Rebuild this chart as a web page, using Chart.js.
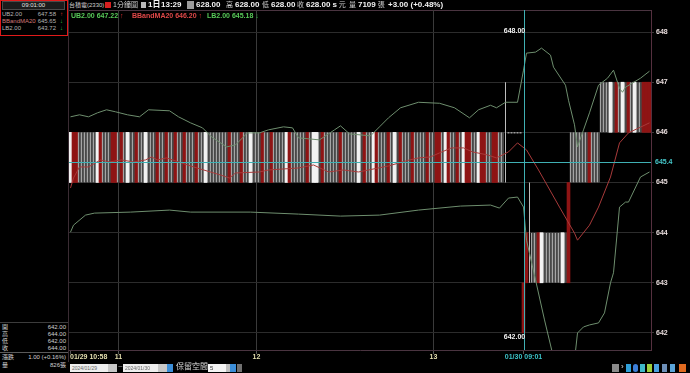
<!DOCTYPE html>
<html>
<head>
<meta charset="utf-8">
<script src="https://cdn.jsdelivr.net/npm/chart.js@4.4.1/dist/chart.umd.min.js"></script>
<style>
html, body { margin: 0; padding: 0; background: #000; width: 690px; height: 373px; overflow: hidden;
  font-family: "Liberation Sans", "Noto Sans CJK TC", sans-serif; }
.abs { position: absolute; white-space: nowrap; }
#frame { position: absolute; left: 68px; top: 10px; width: 584px; height: 341px; box-sizing: border-box;
  border-top: 1px solid #4a3440; border-left: 1px solid #4a3440; }
#chartBox { position: absolute; left: 69px; top: 10px; width: 621px; height: 352px; }
#left { position: absolute; left: 0; top: 0; width: 68px; height: 362px; border-right: 1px solid #3a2c33; }
#redBox { position: absolute; left: 0; top: 0; width: 68px; height: 36px; border: 1px solid #e01a1a; box-sizing: border-box; }
#timeHead { position: absolute; left: 2px; top: 1px; width: 63px; height: 9px; background: #1c1c1c; border: 1px solid #4a4a4a;
  box-sizing: border-box; color: #e0e0e0; font-size: 6px; line-height: 7px; text-align: center; }
.lrow { position: absolute; left: 2px; width: 62px; height: 7px; font-size: 6px; line-height: 7px; color: #b5b5b5; }
.lrow .v { position: absolute; right: 8px; top: 0; }
.lrow .a { position: absolute; right: 1px; top: 0; font-size: 6px; }
.brow { position: absolute; left: 2px; width: 64px; height: 7px; font-size: 6px; line-height: 7px; color: #d0d0d0; }
.brow .v { position: absolute; right: 0; top: 0; }
.hd { position: absolute; top: 0; font-size: 7px; line-height: 10px; color: #cfcfcf; white-space: nowrap; }
.hd b { color: #f2f2f2; font-size: 8px; }
.lg { position: absolute; top: 11px; font-size: 7px; line-height: 9px; font-weight: bold; white-space: nowrap; }
.tb { position: absolute; top: 364px; height: 8px; box-sizing: border-box; }
</style>
</head>
<body>
<div id="frame"></div>
<div id="chartBox"><canvas id="myChart"></canvas></div>

<div id="left">
  <div id="redBox"></div>
  <div id="timeHead">09:01:00</div>
  <div class="lrow" style="top:11px"><span>UB2.00</span><span class="v">647.58</span><span class="a" style="color:#e03030">↑</span></div>
  <div class="lrow" style="top:18px"><span style="color:#d07878">BBandMA20</span><span class="v">645.65</span><span class="a" style="color:#30c040">↓</span></div>
  <div class="lrow" style="top:25px"><span>LB2.00</span><span class="v">643.72</span><span class="a" style="color:#30c040">↓</span></div>

  <div class="abs" style="left:0;top:322px;width:68px;height:1px;background:#3c3c3c"></div>
  <div class="brow" style="top:324px"><span>開</span><span class="v">642.00</span></div>
  <div class="brow" style="top:331px"><span>高</span><span class="v">644.00</span></div>
  <div class="brow" style="top:338px"><span>低</span><span class="v">642.00</span></div>
  <div class="brow" style="top:345px"><span>收</span><span class="v">644.00</span></div>
  <div class="abs" style="left:0;top:352px;width:68px;height:1px;background:#5a5a5a"></div>
  <div class="brow" style="top:354px"><span>漲跌</span><span class="v">1.00 (+0.16%)</span></div>
  <div class="brow" style="top:362px"><span>量</span><span class="v">826張</span></div>
</div>

<!-- header -->
<span class="hd" style="left:69px;font-size:6px">台積電(2330)</span>
<span class="abs" style="left:105px;top:2px;width:6px;height:6px;background:#d82020"></span>
<span class="hd" style="left:113px">1分鐘圖</span>
<span class="abs" style="left:141px;top:2px;width:5px;height:6px;background:#b8b8b8"></span>
<span class="hd" style="left:148px"><b>1日</b></span>
<span class="hd" style="left:161px"><b>13:29</b></span>
<span class="abs" style="left:187px;top:1px;width:7px;height:8px;background:#9a9a9a"></span>
<span class="hd" style="left:196px"><b>628.00</b></span>
<span class="hd" style="left:226px">高 <b>628.00</b></span>
<span class="hd" style="left:262px">低 <b>628.00</b></span>
<span class="hd" style="left:297px">收 <b>628.00</b> <b>s</b> 元</span>
<span class="hd" style="left:349px">量 <b>7109</b> 張</span>
<span class="hd" style="left:388px"><b>+3.00 (+0.48%)</b></span>

<!-- legend -->
<span class="lg" style="left:71px;color:#58c858">UB2.00 647.22 <span style="color:#e03030">↑</span></span>
<span class="lg" style="left:132px;color:#e04848">BBandMA20 646.20 <span style="color:#e03030">↑</span></span>
<span class="lg" style="left:207px;color:#58c858">LB2.00 645.18 <span style="color:#30c040">↓</span></span>

<!-- bottom toolbar -->
<div class="tb" style="left:70px;width:47px;background:#eeeeee;font-size:5px;line-height:8px;color:#666;padding-left:2px">2024/01/29</div>
<div class="tb" style="left:108px;width:9px;background:#c8c8c8"></div>
<span class="abs" style="left:118px;top:362px;font-size:8px;color:#aaa">~</span>
<div class="tb" style="left:123px;width:44px;background:#eeeeee;font-size:5px;line-height:8px;color:#666;padding-left:2px">2024/01/30</div>
<div class="tb" style="left:158px;width:9px;background:#c8c8c8"></div>
<div class="tb" style="left:167px;width:6px;background:#3c8ed8"></div>
<span class="abs" style="left:176px;top:362px;font-size:8px;line-height:10px;color:#d8d8d8">保留空間</span>
<div class="tb" style="left:208px;width:18px;background:#f4f4f4;font-size:6px;line-height:8px;color:#333;padding-left:2px">5</div>
<div class="tb" style="left:226px;width:4px;background:#c0c0c0"></div>
<div class="tb" style="left:230px;width:6px;background:#3c8ed8"></div>
<div class="tb" style="left:237px;width:5px;background:#707070"></div>
<div class="tb" style="left:612px;width:7px;background:#8a8a8a"></div>
<span class="abs" style="left:621px;top:362px;font-size:8px;color:#ddd">›</span>
<div class="tb" style="left:626px;width:5px;background:#2f9fd8"></div>
<div class="tb" style="left:633px;width:5px;background:#3c7ed8;border-radius:3px"></div>
<div class="tb" style="left:640px;width:5px;background:#3fb8c8"></div>
<div class="tb" style="left:647px;width:5px;background:#9ccf3c"></div>
<div class="tb" style="left:654px;width:5px;background:#4aa0e0"></div>
<div class="tb" style="left:662px;width:5px;background:#6d8fb8"></div>
<div class="tb" style="left:670px;width:5px;background:#5aa4d8"></div>
<div class="tb" style="left:679px;width:7px;background:#e06a20"></div>

<script>
// x axis labels (bar index -> text)
const xTickIdx = [0, 16, 62, 121, 151];
const xTickText = ['01/29 10:58', '11', '12', '13', '01/30 09:01'];
const yTicks = [642, 643, 644, 645, 646, 647, 648];
const crossVal = 645.4;
const markIdx = 148;
const markVals = [648.00, 642.00];

// minute bars: body low / high, and kind (o = hollow, r = down red, w = solid white, l = thin bar, d = doji)
const barLow = [
  645,645,645,645,645,645,645,645,645,645,645,645,645,645,645,645,645,645,645,645,
  645,645,645,645,645,645,645,645,645,645,645,645,645,645,645,645,645,645,645,645,
  645,645,645,645,645,645,645,645,645,645,645,645,645,645,645,645,645,645,645,645,
  645,645,645,645,645,645,645,645,645,645,645,645,645,645,645,645,645,645,645,645,
  645,645,645,645,645,645,645,645,645,645,645,645,645,645,645,645,645,645,645,645,
  645,645,645,645,645,645,645,645,645,645,645,645,645,645,645,645,645,645,645,645,
  645,645,645,645,645,645,645,645,645,645,645,645,645,645,645,645,645,645,645,645,
  645,645,645,645,645,645,646,646,646,646,646,642,643,643,643,643,643,643,643,643,
  643,643,643,643,643,643,643,645,645,645,645,645,645,645,645,645,645,646,646,646,
  646,646,646,646,646,646,646,646,646,646,646,646,646,646
];
const barHigh = [
  646,646,646,646,646,646,646,646,646,646,646,646,646,646,646,646,646,646,646,646,
  646,646,646,646,646,646,646,646,646,646,646,646,646,646,646,646,646,646,646,646,
  646,646,646,646,646,646,646,646,646,646,646,646,646,646,646,646,646,646,646,646,
  646,646,646,646,646,646,646,646,646,646,646,646,646,646,646,646,646,646,646,646,
  646,646,646,646,646,646,646,646,646,646,646,646,646,646,646,646,646,646,646,646,
  646,646,646,646,646,646,646,646,646,646,646,646,646,646,646,646,646,646,646,646,
  646,646,646,646,646,646,646,646,646,646,646,646,646,646,646,646,646,646,646,646,
  646,646,646,646,646,647,646,646,646,646,646,643,644,645,644,644,644,644,644,644,
  644,644,644,644,644,644,645,646,646,646,646,646,646,646,646,646,646,647,647,647,
  647,647,647,647,647,647,647,647,647,647,647,647,647,647
];
const barKind = (
  'wrroooooow' + 'rooorrorow' + 'ooroowooor' + 'ooroorooro' + 'ooroowoooo' +
  'oooroooroo' + 'wooorooroo' + 'oowrooooor' + 'owworooooo' + 'roooooworo' +
  'owrooorowo' + 'roooroooor' + 'oorrowroor' + 'owrroowrro' + 'orrooldddd' +
  'drrloorwoo' + 'ooooworooo' + 'oooroooooo' + 'woroworowo' + 'orrr'
).split('');

// Bollinger bands (bar index, value)
const ubIdx = [0,3,6,9,12,15,19,23,26,33,36,40,44,47,52,55,59,63,66,71,74,76,83,88,90,93,100,103,106,110,
  116,123,128,133,136,140,142,145,149,151,152,155,157,160,161,165,166,168,169,171,173,176,179,181,183,184,185,190,193];
const ubVal = [646.31,646.35,646.31,646.39,646.45,646.41,646.35,646.31,646.45,646.43,646.31,646.19,646.09,645.91,645.71,
  645.75,645.99,645.99,646.05,646.11,646.09,645.89,645.85,646.05,646.13,645.97,645.93,646.11,646.29,646.49,
  646.60,646.58,646.49,646.29,646.45,646.54,646.49,646.60,646.60,647.24,647.58,647.60,647.68,647.54,647.30,
  646.94,646.64,646.15,645.71,646.05,646.39,646.94,647.08,647.24,646.88,646.80,646.90,647.08,647.22];
const maIdx = [0,1,3,6,10,13,17,21,25,27,29,32,36,41,50,53,55,63,66,76,81,86,91,96,106,113,116,120,123,127,
  131,134,139,142,146,149,152,156,163,168,169,173,176,180,183,186,193];
const maVal = [644.89,645.09,645.31,645.31,645.45,645.41,645.45,645.41,645.45,645.51,645.45,645.49,645.41,645.31,645.15,
  645.09,645.19,645.21,645.25,645.29,645.35,645.21,645.25,645.21,645.33,645.45,645.49,645.51,645.59,645.69,
  645.69,645.61,645.55,645.49,645.61,645.79,645.65,645.25,644.51,643.99,643.85,644.15,644.51,645.11,645.79,645.99,646.19];
const lbIdx = [0,1,5,8,20,33,40,60,76,90,103,116,130,140,143,146,149,151,152,155,158,160,162,165,168,169,171,173,176,178,
  180,181,183,185,186,190,193];
const lbVal = [644.01,644.15,644.35,644.39,644.41,644.45,644.41,644.41,644.37,644.33,644.35,644.45,644.53,644.55,644.49,
  644.69,644.71,644.51,643.85,643.06,642.26,641.76,641.26,640.96,641.46,642.00,642.12,642.16,642.20,642.40,
  643.00,643.20,644.51,644.61,644.61,645.11,645.21];

const kindFill = { o: '#484848', r: '#8e1414', w: '#f2f2f2' };
const bodyPts = [], thinPts = [], dojiPts = [];
barKind.forEach(function (k, i) {
  if (k === 'l') thinPts.push({ x: i, y: [barLow[i], barHigh[i]] });
  else if (k === 'd') dojiPts.push({ x: i, y: [barHigh[i] - 0.02, barHigh[i]] });
  else bodyPts.push({ x: i, y: [barLow[i], barHigh[i]], k: k });
});
const pts = (idx, val) => idx.map((v, i) => ({ x: v, y: val[i] }));

const extras = {
  id: 'extras',
  afterDatasetsDraw(chart) {
    const { ctx, chartArea, scales: { x, y } } = chart;
    ctx.save();
    ctx.strokeStyle = '#3fb0b3';
    ctx.lineWidth = 1;
    const cy = Math.round(y.getPixelForValue(crossVal)) + 0.5;
    ctx.beginPath(); ctx.moveTo(chartArea.left, cy); ctx.lineTo(chartArea.right, cy); ctx.stroke();
    const cx = Math.round(x.getPixelForValue(xTickIdx[xTickIdx.length - 1])) + 0.5;
    ctx.beginPath(); ctx.moveTo(cx, chartArea.top); ctx.lineTo(cx, chartArea.bottom); ctx.stroke();

    ctx.font = 'bold 7px "Liberation Sans"';
    ctx.textBaseline = 'middle';
    ctx.textAlign = 'left';
    ctx.fillStyle = '#45c6c9';
    ctx.fillText(String(crossVal), chartArea.right + 4, cy);

    ctx.textAlign = 'center';
    ctx.fillStyle = '#f0f0f0';
    const mx = x.getPixelForValue(markIdx);
    ctx.fillText(markVals[0].toFixed(2), mx, y.getPixelForValue(markVals[0]) - 1);
    ctx.fillText(markVals[1].toFixed(2), mx, y.getPixelForValue(markVals[1]) + 4);

    xTickIdx.forEach(function (v, i) {
      ctx.fillStyle = i === xTickIdx.length - 1 ? '#3cc3c8' : '#e4dfae';
      ctx.textAlign = i === 0 ? 'left' : 'center';
      ctx.fillText(xTickText[i], i === 0 ? chartArea.left + 1 : x.getPixelForValue(v), chartArea.bottom + 7);
    });
    ctx.restore();
  }
};

const ctx = document.getElementById('myChart').getContext('2d');
new Chart(ctx, {
  type: 'bar',
  data: {
    datasets: [
      { type: 'line', data: pts(ubIdx, ubVal), borderColor: '#6e8e6e', borderWidth: 1, pointRadius: 0, order: 0 },
      { type: 'line', data: pts(maIdx, maVal), borderColor: '#a83a3a', borderWidth: 1, pointRadius: 0, order: 0 },
      { type: 'line', data: pts(lbIdx, lbVal), borderColor: '#6e8e6e', borderWidth: 1, pointRadius: 0, order: 0 },
      {
        data: bodyPts, grouped: false, order: 1,
        barPercentage: 1, categoryPercentage: 1,
        backgroundColor: c => kindFill[c.raw.k],
        borderColor: c => c.raw.k === 'o' ? '#d4d4d4' : kindFill[c.raw.k],
        borderWidth: c => c.raw.k === 'o' ? { left: 1, top: 0, right: 0, bottom: 0 } : 0,
        borderSkipped: false
      },
      {
        data: thinPts, grouped: false, order: 1,
        barPercentage: 0.34, categoryPercentage: 1,
        backgroundColor: '#bdbdbd', borderWidth: 0
      },
      {
        data: dojiPts, grouped: false, order: 1,
        barPercentage: 0.67, categoryPercentage: 1,
        backgroundColor: '#dcdcdc', borderWidth: 0
      }
    ]
  },
  options: {
    responsive: true,
    maintainAspectRatio: false,
    animation: false,
    events: [],
    layout: { padding: 0 },
    font: { family: 'Liberation Sans' },
    scales: {
      x: {
        type: 'linear',
        min: -0.5,
        max: 193.5,
        offset: false,
        afterBuildTicks: s => { s.ticks = xTickIdx.map(v => ({ value: v })); },
        afterFit: s => { s.height = 12; },
        ticks: { display: false },
        grid: {
          offset: false,
          tickLength: 4,
          color: c => (c.tick && (c.tick.value === 0 || c.tick.value === 151)) ? 'rgba(0,0,0,0)' : '#3a3a3a',
          tickColor: '#555555'
        },
        border: { color: '#4a3440' }
      },
      y: {
        position: 'right',
        min: 641.66,
        max: 648.44,
        afterBuildTicks: s => { s.ticks = yTicks.map(v => ({ value: v })); },
        afterFit: s => { s.width = 39; s.paddingTop = 0; s.paddingBottom = 0; },
        ticks: {
          color: '#e8dcdc',
          padding: 2,
          font: { size: 7, weight: 'bold', family: 'Liberation Sans' },
          callback: v => String(v)
        },
        grid: { color: '#2c2c2c', tickLength: 3, tickColor: '#3a3a3a' },
        border: { color: '#55303f' }
      }
    },
    plugins: {
      legend: { display: false },
      tooltip: { enabled: false }
    }
  },
  plugins: [extras]
});
</script>
</body>
</html>
